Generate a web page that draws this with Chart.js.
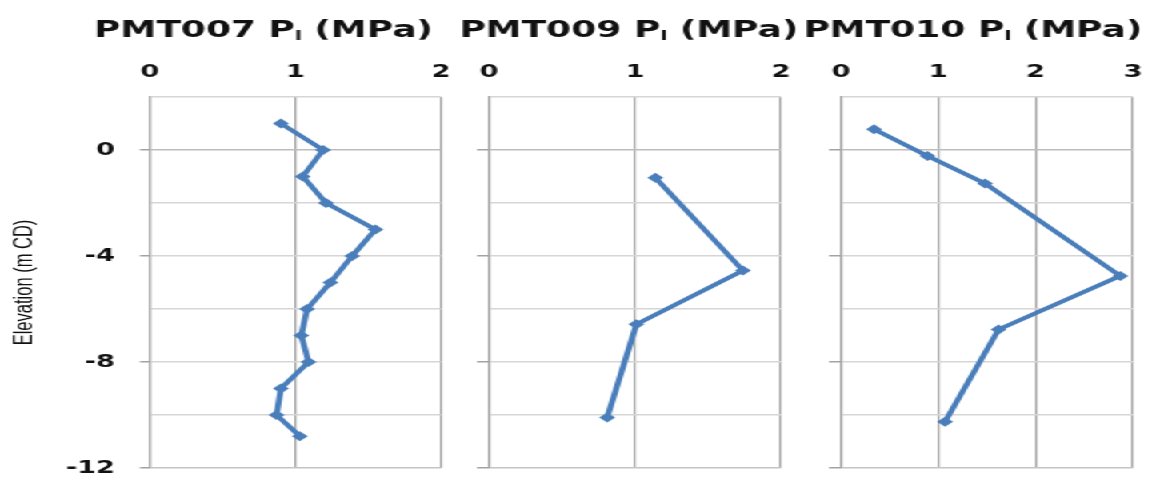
<!DOCTYPE html>
<html><head><meta charset="utf-8">
<script src="https://cdn.jsdelivr.net/npm/chart.js@4.4.1/dist/chart.umd.min.js"></script>
<style>
html,body{margin:0;padding:0;background:#fff;overflow:hidden}
#wrap{position:absolute;left:0;top:0;width:719px;height:482px;transform:scaleX(1.6);transform-origin:0 0}
canvas{position:absolute;top:0}
</style></head><body>
<div id="wrap">
<canvas id="c1" width="287" height="482" style="left:0px"></canvas>
<canvas id="c2" width="213" height="482" style="left:287px"></canvas>
<canvas id="c3" width="219" height="482" style="left:500px"></canvas>
</div>
<script>
// ---- data ----
const panelNames = ['PMT007', 'PMT009', 'PMT010'];
const titleMain = ' P';
const titleSub = 'l';
const titleUnit = ' (MPa)';
const yAxisTitle = 'Elevation (m CD)';

const pmt007Pl   = [0.90, 1.19, 1.05, 1.21, 1.55, 1.39, 1.24, 1.08, 1.04, 1.09, 0.90, 0.87, 1.03];
const pmt007Elev = [1.0, 0.0, -1.0, -2.0, -3.0, -4.0, -5.0, -6.0, -7.0, -8.0, -9.0, -10.0, -10.8];

const pmt009Pl   = [1.14, 1.74, 1.01, 0.81];
const pmt009Elev = [-1.05, -4.55, -6.58, -10.09];

const pmt010Pl   = [0.34, 0.89, 1.48, 2.87, 1.62, 1.07];
const pmt010Elev = [0.78, -0.23, -1.26, -4.75, -6.77, -10.25];

const xMaxes = [2, 2, 3];
const yMin = -12, yMax = 2, yGridStep = 2, yLabelStep = 4;

// ---- styling ----
const BLUE = '#4a7ebb';
const VGRID = '#a3a3a3';
const HGRID = '#d6d6d6';
const FONT_BOLD = '"DejaVu Sans", Verdana, sans-serif';

const titlePlugin = {
  id: 'panelTitle',
  afterDraw(chart, args, opts) {
    const {ctx, chartArea} = chart;
    const cx = (chartArea.left + chartArea.right) / 2 + opts.dx;
    const y = 37;
    const mainFont = 'bold 22.5px ' + FONT_BOLD;
    const subFont = 'bold 13px ' + FONT_BOLD;
    ctx.save();
    ctx.fillStyle = '#111';
    ctx.textBaseline = 'alphabetic';
    ctx.textAlign = 'left';
    const a = opts.name + titleMain;
    ctx.font = mainFont; const w1 = ctx.measureText(a).width; const w3 = ctx.measureText(titleUnit).width;
    ctx.font = subFont; const w2 = ctx.measureText(titleSub).width;
    let x = cx - (w1 + w2 + w3) / 2;
    ctx.font = mainFont; ctx.fillText(a, x, y); x += w1;
    ctx.font = subFont; ctx.fillText(titleSub, x, y + 3); x += w2;
    ctx.font = mainFont; ctx.fillText(titleUnit, x, y);

    // right-aligned elevation tick labels, placed by the y scale
    if (opts.yLabels) {
      const ys = chart.scales.y;
      ctx.font = 'bold 17px ' + FONT_BOLD;
      ctx.textAlign = 'right';
      ctx.textBaseline = 'middle';
      ys.ticks.forEach(t => {
        if (t.value % yLabelStep === 0) {
          ctx.fillText(String(t.value), ys.right - opts.labelGap, ys.getPixelForValue(t.value) + 1);
        }
      });
    }
    ctx.restore();
  }
};

function noOverhang(s) { s.paddingLeft = 0; s.paddingRight = 0; s.paddingTop = 0; s.paddingBottom = 0; }

function makeChart(id, name, xs, ys, xMax, cfg) {
  const pts = xs.map((v, i) => ({x: v, y: ys[i]}));
  return new Chart(document.getElementById(id), {
    type: 'scatter',
    data: {datasets: [{
      data: pts, showLine: true, borderColor: BLUE, backgroundColor: BLUE,
      borderWidth: 3.8, pointStyle: 'rectRot', pointRadius: 5, pointBorderWidth: 0,
      pointBackgroundColor: BLUE, tension: 0
    }]},
    plugins: [titlePlugin],
    options: {
      responsive: false, animation: false, devicePixelRatio: 1,
      layout: {padding: {left: 0, right: cfg.padR, top: 0, bottom: 14}},
      plugins: {legend: {display: false}, tooltip: {enabled: false},
        panelTitle: {name: name, dx: cfg.dx, yLabels: cfg.labels, labelGap: 21.8}},
      scales: {
        x: {
          type: 'linear', position: 'top', min: 0, max: xMax,
          ticks: {stepSize: 1, color: '#111', padding: 14.5, font: {family: FONT_BOLD, weight: 'bold', size: 17}},
          grid: {color: VGRID, lineWidth: 1.25, drawTicks: false},
          border: {display: false},
          afterFit: s => { s.height = 97; noOverhang(s); }
        },
        y: {
          type: 'linear', min: yMin, max: yMax,
          ticks: {stepSize: yGridStep, color: '#111', padding: 3,
            font: {family: FONT_BOLD, weight: 'bold', size: 17},
            callback: () => ''},
          grid: {
            color: c => c.tick.value === 0 ? '#bdbdbd' : (c.tick.value === yMin ? '#c4c4c4' : HGRID),
            lineWidth: 1.5, tickLength: cfg.tickLen,
            tickColor: c => (c.tick.value % yLabelStep === 0) ? VGRID : 'rgba(0,0,0,0)'
          },
          border: {color: VGRID, width: 1.25},
          title: cfg.labels ? {display: true, text: yAxisTitle, color: '#111',
            font: {family: '"Liberation Sans", Arial, sans-serif', size: 16.5}, padding: {top: 5.5, bottom: 0}} : {display: false},
          afterFit: s => { s.width = cfg.yW; noOverhang(s); }
        }
      }
    }
  });
}

makeChart('c1', panelNames[0], pmt007Pl, pmt007Elev, xMaxes[0], {padR: 11.4, yW: 93.75, tickLen: 6.25, labels: true, dx: -20});
makeChart('c2', panelNames[1], pmt009Pl, pmt009Elev, xMaxes[1], {padR: 11.9, yW: 18.6, tickLen: 7.5, labels: false, dx: -3.8});
makeChart('c3', panelNames[2], pmt010Pl, pmt010Elev, xMaxes[2], {padR: 10.9, yW: 25.6, tickLen: 7.5, labels: false, dx: -8.8});
</script>
</body></html>
